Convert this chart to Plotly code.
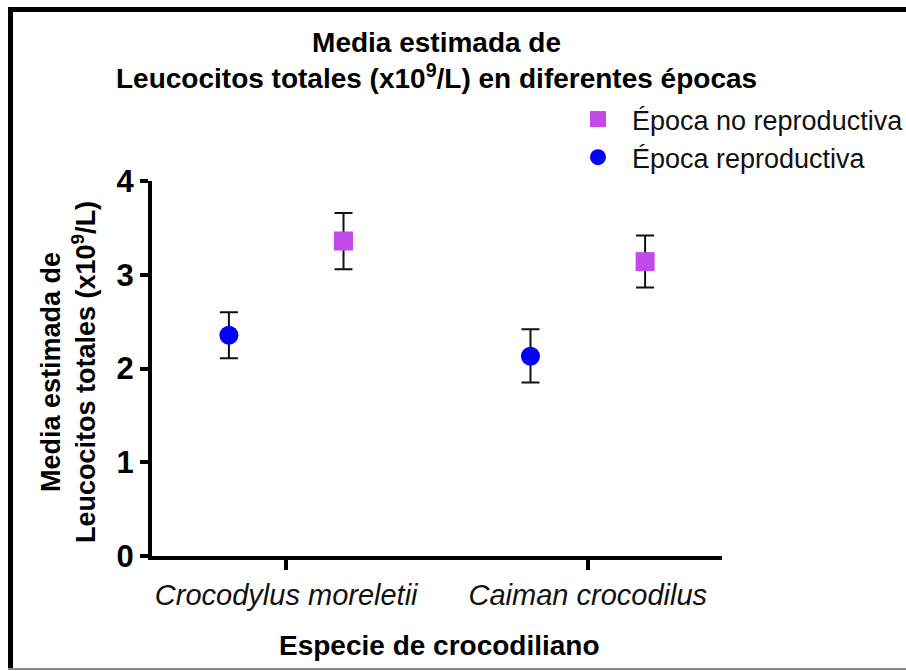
import plotly.graph_objects as go

# ---- data ----
categories = ["Crocodylus moreletii", "Caiman crocodilus"]
series_names = ["Época no reproductiva", "Época reproductiva"]
no_repro_mean = [3.36, 3.14]
no_repro_upper = [3.66, 3.42]
no_repro_lower = [3.06, 2.865]
repro_mean = [2.355, 2.13]
repro_upper = [2.60, 2.42]
repro_lower = [2.11, 1.85]
y_ticks = [0, 1, 2, 3, 4]

# ---- layout geometry (page pixels) ----
W, H = 906, 671
L, R, T, B = 152, 722, 181, 556
PW, PH = R - L, B - T

def px(x):
    return (x - L) / PW

def py(y):
    return (B - y) / PH

FONT = "Liberation Sans, Arial, sans-serif"
MAGENTA = "#C24AE8"
BLUE = "#0000FF"
OFFSET = 0.19

base_x = list(range(len(categories)))

fig = go.Figure()
fig.add_trace(go.Scatter(
    x=[b + OFFSET for b in base_x], y=no_repro_mean, mode="markers",
    name=series_names[0],
    marker=dict(symbol="square", size=19, color=MAGENTA),
    error_y=dict(type="data", symmetric=False,
                 array=[u - m for u, m in zip(no_repro_upper, no_repro_mean)],
                 arrayminus=[m - l for m, l in zip(no_repro_mean, no_repro_lower)],
                 color="#111111", thickness=2, width=9),
))
fig.add_trace(go.Scatter(
    x=[b - OFFSET for b in base_x], y=repro_mean, mode="markers",
    name=series_names[1],
    marker=dict(symbol="circle", size=19, color=BLUE),
    error_y=dict(type="data", symmetric=False,
                 array=[u - m for u, m in zip(repro_upper, repro_mean)],
                 arrayminus=[m - l for m, l in zip(repro_mean, repro_lower)],
                 color="#111111", thickness=2, width=9),
))

fig.update_layout(
    width=W, height=H,
    margin=dict(l=L, r=W - R, t=T, b=H - B, pad=0, autoexpand=False),
    paper_bgcolor="white", plot_bgcolor="white",
    font=dict(family=FONT, color="black"),
    showlegend=True,
    legend=dict(x=px(564), y=py(95), xanchor="left", yanchor="top",
                font=dict(size=27, family=FONT, color="#111111"),
                bgcolor="rgba(0,0,0,0)", itemsizing="trace",
                itemwidth=58, tracegroupgap=0),
    xaxis=dict(range=[-0.445, 1.445], tickvals=base_x,
               ticktext=["<i>%s</i>" % c for c in categories],
               tickfont=dict(size=29, family=FONT, color="#111111"),
               ticks="outside", ticklen=10, tickwidth=4, tickcolor="black",
               showline=True, linewidth=4, linecolor="black",
               showgrid=False, zeroline=False, fixedrange=True),
    yaxis=dict(range=[0, 4], tickvals=y_ticks,
               ticktext=["<b>%d</b>" % v for v in y_ticks],
               tickfont=dict(size=31, family=FONT, color="black"),
               ticks="outside", ticklen=8, tickwidth=4, tickcolor="black",
               showline=True, linewidth=4, linecolor="black",
               showgrid=False, zeroline=False, fixedrange=True),
    annotations=[
        dict(text="<b>Media estimada de<br>Leucocitos totales (x10<sup>9</sup>/L) en diferentes épocas</b>",
             x=px(436), y=py(60), xref="paper", yref="paper",
             xanchor="center", yanchor="middle", showarrow=False,
             font=dict(size=28, family=FONT, color="black")),
        dict(text="<b>Media estimada de<br>Leucocitos totales (x10<sup>9</sup>/L)</b>",
             x=px(68), y=py(372), xref="paper", yref="paper",
             xanchor="center", yanchor="middle", showarrow=False, textangle=-90,
             font=dict(size=27, family=FONT, color="black")),
        dict(text="<b>Especie de crocodiliano</b>",
             x=px(439), y=py(645), xref="paper", yref="paper",
             xanchor="center", yanchor="middle", showarrow=False,
             font=dict(size=28, family=FONT, color="black")),
    ],
    shapes=[
        dict(type="line", xref="paper", yref="paper",
             x0=px(8), x1=px(906), y0=py(9.5), y1=py(9.5),
             line=dict(color="black", width=5)),
        dict(type="line", xref="paper", yref="paper",
             x0=px(10.5), x1=px(10.5), y0=py(8), y1=py(669),
             line=dict(color="black", width=5)),
        dict(type="line", xref="paper", yref="paper",
             x0=px(8), x1=px(906), y0=py(669), y1=py(669),
             line=dict(color="#888888", width=2)),
    ],
)

fig.write_html(
    "out.html",
    config={"displayModeBar": False},
    post_script="document.body.style.margin='0';document.body.style.overflow='hidden';",
)
